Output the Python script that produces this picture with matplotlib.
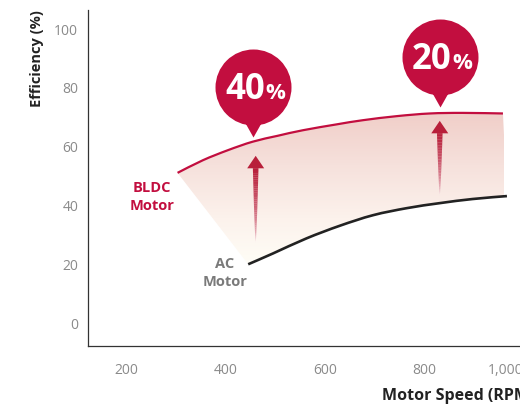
import numpy as np
import matplotlib
matplotlib.use("Agg")
import matplotlib.pyplot as plt
from matplotlib.path import Path
from matplotlib.patches import PathPatch
from matplotlib.colors import LinearSegmentedColormap, to_rgb
from matplotlib.transforms import ScaledTranslation

# ======================================================
# 1. DATA
# ======================================================

bldc_rpm = [304, 355, 405, 455, 505, 556, 624, 676, 745, 811, 877, 958]
bldc_eff = [51.1, 55.4, 58.8, 61.7, 63.7, 65.6, 67.6, 69.0, 70.4, 71.3, 71.5, 71.3]

ac_rpm = [446, 496, 563, 630, 697, 765, 831, 897, 966]
ac_eff = [20.0, 23.7, 28.8, 33.1, 36.7, 39.1, 40.8, 42.2, 43.2]

# improvement arrows: x, tail, tip
arrow_rpm = [461, 831]
arrow_tail = [27.5, 43.5]
arrow_tip = [56.9, 68.8]

# callout bubbles: x, tip value, label
bubble_rpm = [455, 831]
bubble_eff = [63.3, 73.5]
bubble_num = ["40", "20"]

x_ticks = [200, 400, 600, 800, 1000]
x_labels = ["200", "400", "600", "800", "1,000"]
y_ticks = [0, 20, 40, 60, 80, 100]

# ======================================================
# 2. STYLE
# ======================================================

plt.rcParams["font.family"] = ["Open Sans", "DejaVu Sans"]

crimson = "#c20e3f"
arrow_col = "#b81f3a"
ac_col = "#222222"
tick_col = "#8a8a8a"

dpi = 100
fig = plt.figure(figsize=(5.2, 4.09), dpi=dpi)
# axes run past the right edge of the figure, like the reference
ax = fig.add_axes([88 / 520, 63 / 409, 485.6 / 520, 336 / 409])
ax.set_xlim(124, 1100)
ax.set_ylim(-7.8, 106.5)

for s in ["top", "right"]:
    ax.spines[s].set_visible(False)
for s in ["left", "bottom"]:
    ax.spines[s].set_color("#333333")
    ax.spines[s].set_linewidth(0.9)

ax.set_xticks(x_ticks)
ax.set_xticklabels(x_labels)
ax.set_yticks(y_ticks)
ax.tick_params(axis="both", length=0, labelsize=10, labelcolor=tick_col)
ax.tick_params(axis="x", pad=12)
ax.tick_params(axis="y", pad=7)

# last label sits a bit to the left in the reference
last = ax.get_xticklabels()[-1]
last.set_transform(last.get_transform() + ScaledTranslation(-18 / dpi, 0, fig.dpi_scale_trans))


# smooth curve through the read points (Catmull-Rom as cubic Bezier)
def smooth(xs, ys):
    p = np.column_stack([xs, ys]).astype(float)
    q = np.vstack([p[0], p, p[-1]])
    verts = [p[0]]
    for i in range(1, len(q) - 2):
        c1 = q[i] + (q[i + 1] - q[i - 1]) / 6
        c2 = q[i + 1] - (q[i + 2] - q[i]) / 6
        verts += [c1, c2, q[i + 1]]
    return np.array(verts)


bldc_v = smooth(bldc_rpm, bldc_eff)
ac_v = smooth(ac_rpm, ac_eff)
bldc_codes = [Path.MOVETO] + [Path.CURVE4] * (len(bldc_v) - 1)
ac_codes = [Path.MOVETO] + [Path.CURVE4] * (len(ac_v) - 1)

# ======================================================
# 3. GRADIENT BAND BETWEEN THE CURVES
# ======================================================

band_v = np.vstack([bldc_v, ac_v[::-1], bldc_v[:1]])
band_c = bldc_codes + [Path.LINETO] + [Path.CURVE4] * (len(ac_v) - 1) + [Path.LINETO]
band = PathPatch(Path(band_v, band_c), facecolor="none", edgecolor="none")
ax.add_patch(band)

grad_cmap = LinearSegmentedColormap.from_list(
    "band", [(0, "#fffdf6"), (0.3, "#fcf2ec"), (0.65, "#f6e1dc"), (1, "#f0cec8")])
grad = np.linspace(0, 1, 256).reshape(-1, 1)
img = ax.imshow(grad, cmap=grad_cmap, origin="lower", aspect="auto",
                extent=(min(bldc_rpm), max(bldc_rpm), min(ac_eff), max(bldc_eff)),
                zorder=1)
img.set_clip_path(band)

# curves
ax.add_patch(PathPatch(Path(bldc_v, bldc_codes), facecolor="none",
                       edgecolor=crimson, lw=1.6, zorder=3, capstyle="butt"))
ax.add_patch(PathPatch(Path(ac_v, ac_codes), facecolor="none",
                       edgecolor=ac_col, lw=1.9, zorder=3, capstyle="butt"))

# ======================================================
# 4. ARROWS (shaft fades to white)
# ======================================================

x_per_px = 976 / 485.6
y_per_px = 114.3 / 336
head_half = 8.5 * x_per_px
head_len = 12.5 * y_per_px
shaft_half = 2.8 * x_per_px
c_top = np.array(to_rgb(arrow_col))
c_bot = np.array(to_rgb("#ffffff"))

for xa, y0, y1 in zip(arrow_rpm, arrow_tail, arrow_tip):
    base = y1 - head_len
    n = 40
    ys = np.linspace(y0, base, n + 1)
    for i in range(n):
        f0, f1 = i / n, (i + 1) / n
        w0, w1 = shaft_half * f0 ** 0.7, shaft_half * f1 ** 0.7
        col = c_bot + (c_top - c_bot) * ((f0 + f1) / 2) ** 0.5
        ax.fill([xa - w0, xa + w0, xa + w1, xa - w1],
                [ys[i], ys[i], ys[i + 1] + 0.05, ys[i + 1] + 0.05],
                color=col, lw=0, zorder=4)
    ax.fill([xa - head_half, xa + head_half, xa], [base, base, y1],
            color=arrow_col, lw=0, zorder=4)

# ======================================================
# 5. CALLOUT BUBBLES
# ======================================================

r, cy = 38, 50
circ = Path.circle(center=(0, cy), radius=r)
tri = Path([(0, 0), (9, 16), (-9, 16), (0, 0)],
           [Path.MOVETO, Path.LINETO, Path.LINETO, Path.CLOSEPOLY])
bubble = Path.make_compound_path(circ, tri)
ms = 2 * (cy + r) * 72 / dpi

for xb, yb, num in zip(bubble_rpm, bubble_eff, bubble_num):
    ax.plot([xb], [yb], marker=bubble, markersize=ms, color=crimson,
            markeredgewidth=0, linestyle="none", zorder=5)
    ax.annotate(num, (xb, yb), xytext=(12, cy - 12), textcoords="offset pixels",
                ha="right", va="baseline", fontsize=25, fontweight="bold",
                color="white", zorder=6)
    ax.annotate("%", (xb, yb), xytext=(13, cy - 12), textcoords="offset pixels",
                ha="left", va="baseline", fontsize=16, fontweight="bold",
                color="white", zorder=6)

# ======================================================
# 6. LABELS
# ======================================================

ax.text(252, 42.9, "BLDC\nMotor", ha="center", va="center", fontsize=10.5,
        fontweight="bold", color=crimson, linespacing=1.3)
ax.text(399, 17.0, "AC\nMotor", ha="center", va="center", fontsize=10.5,
        fontweight="bold", color="#7a7a7a", linespacing=1.3)

ax.set_ylabel("Efficiency (%)", fontsize=10.5, fontweight="bold", color="#222222")
ax.yaxis.label.set(rotation_mode="default", ha="center", va="top")
ax.yaxis.set_label_coords((37 - 88) / 485.6, 1.0)

ax.set_xlabel("Motor Speed (RPM)", fontsize=11.5, fontweight="bold", color="#222222")
ax.xaxis.label.set(ha="left", va="center")
ax.xaxis.set_label_coords((382 - 88) / 485.6, -(396 - 346) / 336)

fig.savefig("out.png", dpi=dpi)
